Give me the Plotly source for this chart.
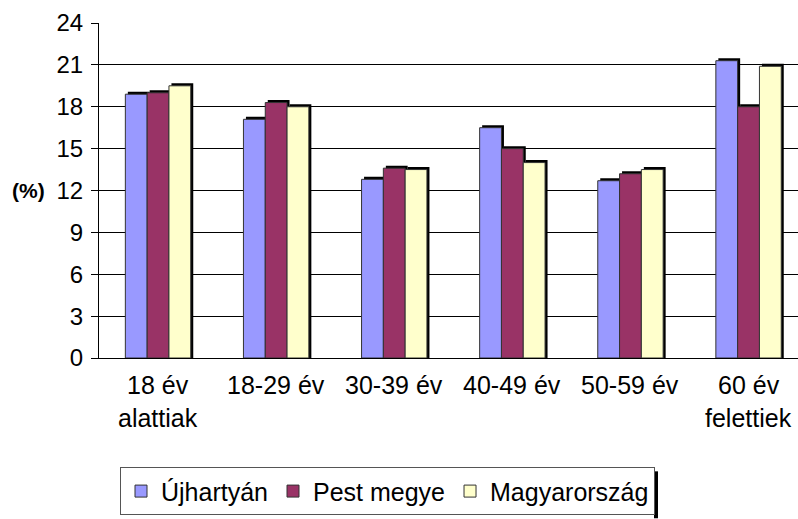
import plotly.graph_objects as go

categories = ["18 év alattiak", "18-29 év", "30-39 év", "40-49 év", "50-59 év", "60 év felettiek"]
label_line1 = ["18 év", "18-29 év", "30-39 év", "40-49 év", "50-59 év", "60 év"]
label_line2 = ["alattiak", "", "", "", "", "felettiek"]
series_names = ["Újhartyán", "Pest megye", "Magyarország"]
ujhartyan = [18.9, 17.1, 12.8, 16.5, 12.7, 21.3]
pest_megye = [19.0, 18.3, 13.6, 15.0, 13.2, 18.0]
magyarorszag = [19.5, 18.0, 13.5, 14.0, 13.5, 20.9]
y_ticks = [0, 3, 6, 9, 12, 15, 18, 21, 24]

series_values = [ujhartyan, pest_megye, magyarorszag]
colors = ["#9999FF", "#993366", "#FFFFCC"]

FONT = "Arial, Liberation Sans, sans-serif"
W, H = 798, 519
ml, mt, mr = 99, 23, 0
plot_bottom = 358.5
mb = H - plot_bottom
plot_w = W - ml - mr
plot_h = plot_bottom - mt
px_per_cat = 118.1
x_start = -0.5
x_end = x_start + plot_w / px_per_cat
px_per_val = plot_h / 24.0

bar_w = 21.8 / px_per_cat
sh_dx = 2.5 / px_per_cat
sh_dy = 2.5 / px_per_val

xs = list(range(len(categories)))
fig = go.Figure()

# shadows
for i, vals in enumerate(series_values):
    off = (i - 1.5) * bar_w
    fig.add_trace(go.Bar(
        x=xs, y=[v + sh_dy for v in vals], width=bar_w, offset=off + sh_dx,
        marker=dict(color="#000000", line=dict(width=0)),
        showlegend=False, hoverinfo="skip"))

for i, (name, vals) in enumerate(zip(series_names, series_values)):
    off = (i - 1.5) * bar_w
    fig.add_trace(go.Bar(
        x=xs, y=vals, width=bar_w, offset=off, name=name,
        marker=dict(color=colors[i], line=dict(color="#333333", width=1))))

def px2paper_x(px):
    return (px - ml) / plot_w

def px2paper_y(py):
    return (plot_bottom - py) / plot_h

annotations = []
for i in xs:
    annotations.append(dict(x=i, y=0, xref="x", yref="paper", text=label_line1[i],
                            showarrow=False, yshift=-27, yanchor="middle",
                            font=dict(family=FONT, size=25, color="black")))
    if label_line2[i]:
        annotations.append(dict(x=i, y=0, xref="x", yref="paper", text=label_line2[i],
                                showarrow=False, yshift=-60, yanchor="middle",
                                font=dict(family=FONT, size=25, color="black")))
annotations.append(dict(x=px2paper_x(28), y=px2paper_y(191), xref="paper", yref="paper",
                        text="<b>(%)</b>", showarrow=False, xanchor="center", yanchor="middle",
                        font=dict(family=FONT, size=21, color="black")))

# legend drop shadow on the right side
shapes = [dict(type="rect", xref="paper", yref="paper",
               x0=px2paper_x(654), x1=px2paper_x(658),
               y0=px2paper_y(519), y1=px2paper_y(472),
               fillcolor="black", line=dict(width=0), layer="above")]

fig.update_layout(
    width=W, height=H,
    margin=dict(l=ml, r=mr, t=mt, b=mb, autoexpand=False),
    paper_bgcolor="white", plot_bgcolor="white",
    barmode="overlay",
    font=dict(family=FONT, size=20, color="black"),
    xaxis=dict(range=[x_start, x_end], showticklabels=False, showgrid=False,
               showline=True, linecolor="black", linewidth=1, ticks="", zeroline=False,
               fixedrange=True),
    yaxis=dict(range=[0, 24], tickvals=y_ticks, showgrid=True, gridcolor="black",
               gridwidth=1, showline=True, linecolor="black", linewidth=1,
               ticks="outside", ticklen=7, tickcolor="black", zeroline=False,
               tickfont=dict(family=FONT, size=24, color="black"), ticklabelstandoff=3,
               fixedrange=True),
    legend=dict(orientation="h", x=px2paper_x(120), xanchor="left",
                y=px2paper_y(468), yanchor="top",
                bordercolor="#555555", borderwidth=1, bgcolor="white",
                font=dict(family=FONT, size=25, color="black"),
                itemwidth=30, tracegroupgap=0),
    annotations=annotations,
    shapes=shapes,
    showlegend=True,
)

fig.write_html("out.html", config={"displayModeBar": False},
               post_script="document.body.style.margin='0';")
